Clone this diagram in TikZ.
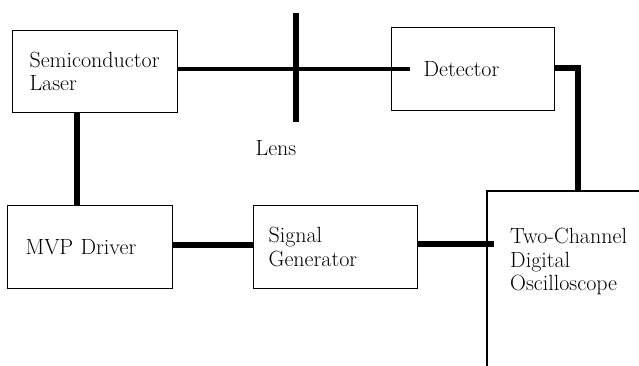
\documentclass[tikz,border=0pt]{standalone}
\begin{document}
\begin{tikzpicture}[x=1pt,y=-1pt,
  box/.style={draw, line width=1.1pt, rectangle, anchor=north west, align=left,
    font=\rmfamily\fontsize{22}{23.5}\selectfont},
  txt/.style={font=\rmfamily\fontsize{22}{23.5}\selectfont},
  wire/.style={line width=5.5pt},
  thinwire/.style={line width=4pt}]
\useasboundingbox (0,0) rectangle (639,366);
% boxes
\node[box, minimum width=165, minimum height=82, text width=131, inner xsep=17] (laser) at (12,30) {Semiconductor\\Laser};
\node[box, minimum width=163, minimum height=83, text width=99, inner xsep=32] (det) at (391,27) {Detector};
\node[box, minimum width=165, minimum height=83, text width=129, inner xsep=18] (mvp) at (7,205) {MVP Driver};
\node[box, minimum width=164, minimum height=83, text width=134, inner xsep=15] (sig) at (253,205) {Signal\\Generator};
\node[rectangle, anchor=north west, minimum width=153, minimum height=176, inner sep=0] (osc) at (487,191) {};
\node[txt, anchor=north west, align=left, inner sep=0] (osct) at (510,228) {Two-Channel\\Digital\\Oscilloscope};
\draw[line width=1.1pt] (osc.north east) -- (osc.north west) -- (osc.south west);
% lens
\coordinate (lenstop) at (296,13);
\coordinate (lensbot) at (296,122);
\draw[line width=6pt] (lenstop) -- (lensbot);
\node[txt] (lens) at (276,148) {Lens};
% connectors
\coordinate (detin) at (410,69);
\draw[thinwire] (laser.east |- detin) -- (detin);
\coordinate (bend) at (578,68);
\draw[wire] (det.east |- bend) -- (bend) -- (bend |- osc.north);
\coordinate (lv) at (77,0);
\draw[wire] (lv |- laser.south) -- (lv |- mvp.north);
\coordinate (mh) at (0,245);
\draw[wire] (mvp.east |- mh) -- (sig.west |- mh);
\coordinate (oscin) at (494,244);
\draw[line width=6.5pt] (sig.east |- oscin) -- (oscin);
\end{tikzpicture}
\end{document}
